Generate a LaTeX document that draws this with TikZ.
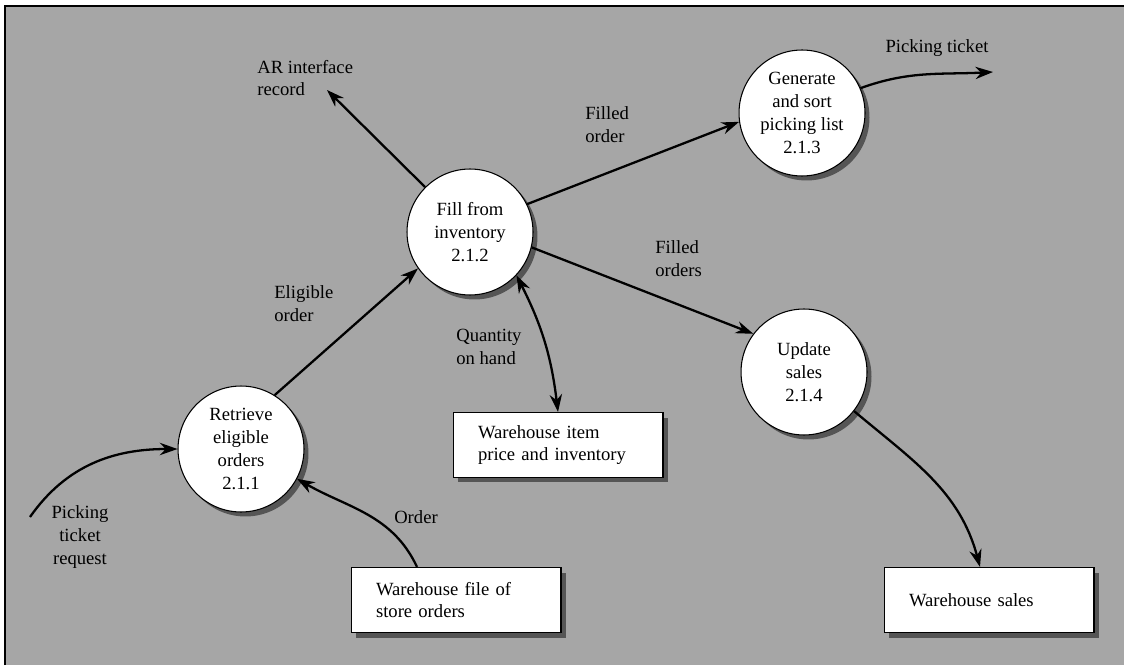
\documentclass[tikz,border=0pt]{standalone}
\usepackage{fontspec}
\setmainfont{Liberation Serif}
\usetikzlibrary{arrows.meta, positioning, shadows}
\definecolor{paper}{HTML}{A6A6A6}
\definecolor{shade}{HTML}{555555}

\begin{document}
\begin{tikzpicture}[
    x=0.02cm, y=0.02cm,
    every node/.style={font=\fontsize{10.6}{13}\selectfont},
    process/.style={circle, draw, line width=0.6pt, fill=white, minimum size=2.52cm, inner sep=0pt, align=center,
        drop shadow={shadow xshift=0.09cm, shadow yshift=-0.09cm, fill=shade, opacity=1}},
    store/.style={rectangle, draw, line width=0.6pt, fill=white, text width=3.2cm, inner xsep=0.5cm, minimum height=1.3cm, align=left,
        drop shadow={shadow xshift=0.1cm, shadow yshift=-0.1cm, fill=shade, opacity=1}},
    flow/.style={line width=1.3pt, -{Stealth[length=10pt, width=7pt]}},
    flowboth/.style={line width=1.3pt, {Stealth[length=10pt, width=7pt]}-{Stealth[length=10pt, width=7pt]}},
    flowlabel/.style={align=left, inner sep=0pt, anchor=west},
]
\useasboundingbox (0,0) rectangle (1124,-665);
% textured page
\fill[paper] (5,-6) rectangle (1124,-665);
\draw[line width=0.6pt] (5,-665) -- (5,-6) -- (1124,-6);
% processes
\node[process] (retrieve) at (241,-449) {Retrieve\\eligible\\orders\\2.1.1};
\node[process] (fill) at (470,-232) {Fill from\\inventory\\2.1.2};
\node[process] (generate) at (802,-113) {Generate\\and sort\\picking list\\2.1.3};
\node[process] (update) at (804,-372) {Update\\sales\\2.1.4};
% data stores
\node[store] (itemstore) at (558,-445) {Warehouse item\\price and inventory};
\node[store] (orderstore) at (456,-600) {Warehouse file of\\store orders};
\node[store] (salesstore) at (989,-600) {Warehouse sales};
% free ends
\coordinate (arout) at (327,-90);
\coordinate (ticketout) at (993,-72);
\coordinate (requestin) at (30,-517);
% flows
\draw[flow] (fill.135) -- (arout);
\draw[flow] (retrieve.58) -- (fill.215);
\draw[flow] (fill.26) -- (generate.188);
\draw[flow] (generate.23) to[out=20, in=183] (ticketout);
\draw[flow] (fill.-14) -- (update.143);
\draw[flowboth] (fill.-43) to[bend left=10] (itemstore.north);
\draw[flow] (requestin) to[out=55, in=180] (retrieve.west);
\draw[flow] ([xshift=-0.78cm]orderstore.north) to[out=115, in=-30] (retrieve.-28);
\draw[flow] (update.-38) to[out=-40, in=105] ([xshift=-0.18cm]salesstore.north);
% flow labels
\node[flowlabel] (arlabel) at (257,-78) {AR interface\\record};
\node[flowlabel] (eliglabel) at (274,-304) {Eligible\\order};
\node[flowlabel] (filledlabel) at (585,-125) {Filled\\order};
\node[flowlabel] (filledslabel) at (655,-259) {Filled\\orders};
\node[flowlabel] (qtylabel) at (456,-347) {Quantity\\on hand};
\node[inner sep=0pt] (ticketlabel) at (937,-48) {Picking ticket};
\node[inner sep=0pt, align=center] (requestlabel) at (80,-537) {Picking\\ticket\\request};
\node[inner sep=0pt] (orderlabel) at (416,-517) {Order};
\end{tikzpicture}
\end{document}
